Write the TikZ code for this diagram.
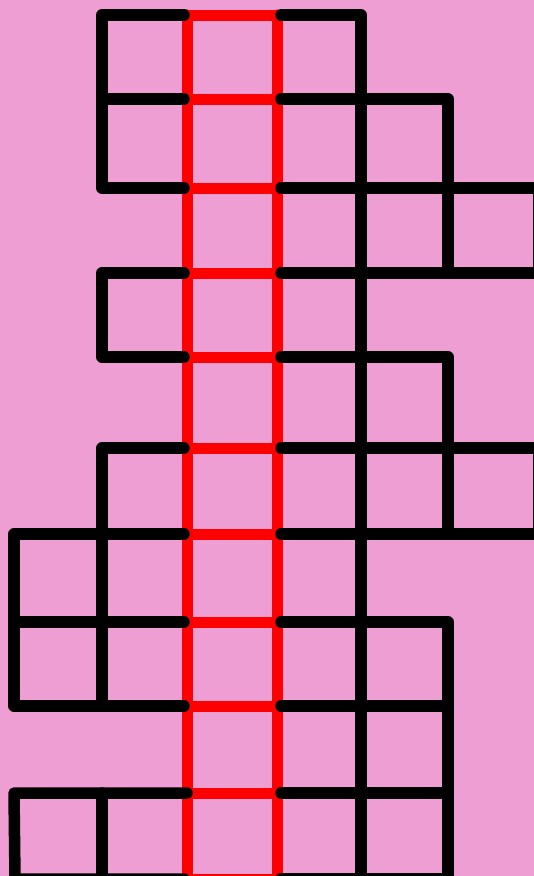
\documentclass[tikz,border=0pt]{standalone}
\definecolor{bgpink}{RGB}{238,158,210}
\definecolor{gridred}{RGB}{255,0,0}
\tikzset{
  blk/.style={draw=black,line width=11.5pt,line cap=round,line join=round},
  redl/.style={draw=gridred,line width=11pt,line cap=round,line join=round}
}
\begin{document}
\begin{tikzpicture}[x=1pt,y=-1pt]
\useasboundingbox (0,0) rectangle (534,876);
\fill[bgpink] (0,0) rectangle (534,876);
\clip (0,0) rectangle (534,876);
% column x positions
\def\xa{14}\def\xb{102}\def\xc{187}\def\xd{277}\def\xe{361}\def\xf{448}\def\xg{538.5}
% rows
\def\ra{15}\def\rb{99}\def\rc{188}\def\rd{273}\def\re{357}\def\rf{448}\def\rg{534}\def\rh{622}\def\ri{706}\def\rj{793}\def\rk{879}
% named coordinates of the red ladder
\foreach \n/\y in {0/\ra,1/\rb,2/\rc,3/\rd,4/\re,5/\rf,6/\rg,7/\rh,8/\ri,9/\rj,10/\rk}{
  \coordinate (L\n) at (\xc,\y);
  \coordinate (R\n) at (\xd,\y);
  \coordinate (LL\n) at (\xc-3,\y);
  \coordinate (RR\n) at (\xd+4,\y);
}
% red ladder
\draw[redl] (L0) -- (L10);
\draw[redl] (R0) -- (R10);
\foreach \n in {0,...,10}{ \draw[redl] (L\n) -- (R\n); }
% ---------- left black cells ----------
\coordinate (b0) at (\xb,\ra); \coordinate (b2) at (\xb,\rc);
\draw[blk] (LL0) -- (b0) -- (b2) -- (LL2);
\draw[blk] (\xb,\rb) -- (LL1);
\coordinate (b3) at (\xb,\rd); \coordinate (b4) at (\xb,\re);
\draw[blk] (LL3) -- (b3) -- (b4) -- (LL4);
\coordinate (b5) at (\xb,\rf); \coordinate (b8) at (\xb,\ri);
\draw[blk] (LL5) -- (b5) -- (b8);
\coordinate (a6) at (\xa,\rg); \coordinate (a8) at (\xa,\ri);
\draw[blk] (LL6) -- (a6) -- (a8) -- (LL8);
\draw[blk] (\xa,\rh) -- (LL7);
\coordinate (a9) at (\xa,\rj); \coordinate (a10) at (\xa+1,\rk);
\draw[blk] (L9) -- (a9) -- (a10) -- (LL10);
\draw[blk] (\xb,\rj) -- (\xb,\rk);
% ---------- right black cells ----------
\coordinate (e0) at (\xe,\ra); \coordinate (e10) at (\xe,\rk);
\draw[blk] (RR0) -- (e0) -- (e10);
\coordinate (f1) at (\xf,\rb);
\draw[blk] (RR1) -- (f1) -- (\xf,\rd);
\draw[blk] (RR2) -- (\xg,\rc) -- (\xg,\rd) -- (RR3);
\coordinate (f4) at (\xf,\re);
\draw[blk] (RR4) -- (f4) -- (\xf,\rg);
\draw[blk] (RR5) -- (\xg,\rf) -- (\xg,\rg) -- (RR6);
\coordinate (f7) at (\xf,\rh);
\draw[blk] (RR7) -- (f7) -- (\xf,\rk) -- (RR10);
\draw[blk] (RR8) -- (\xf,\ri);
\draw[blk] (RR9) -- (\xf,\rj);
\end{tikzpicture}
\end{document}
